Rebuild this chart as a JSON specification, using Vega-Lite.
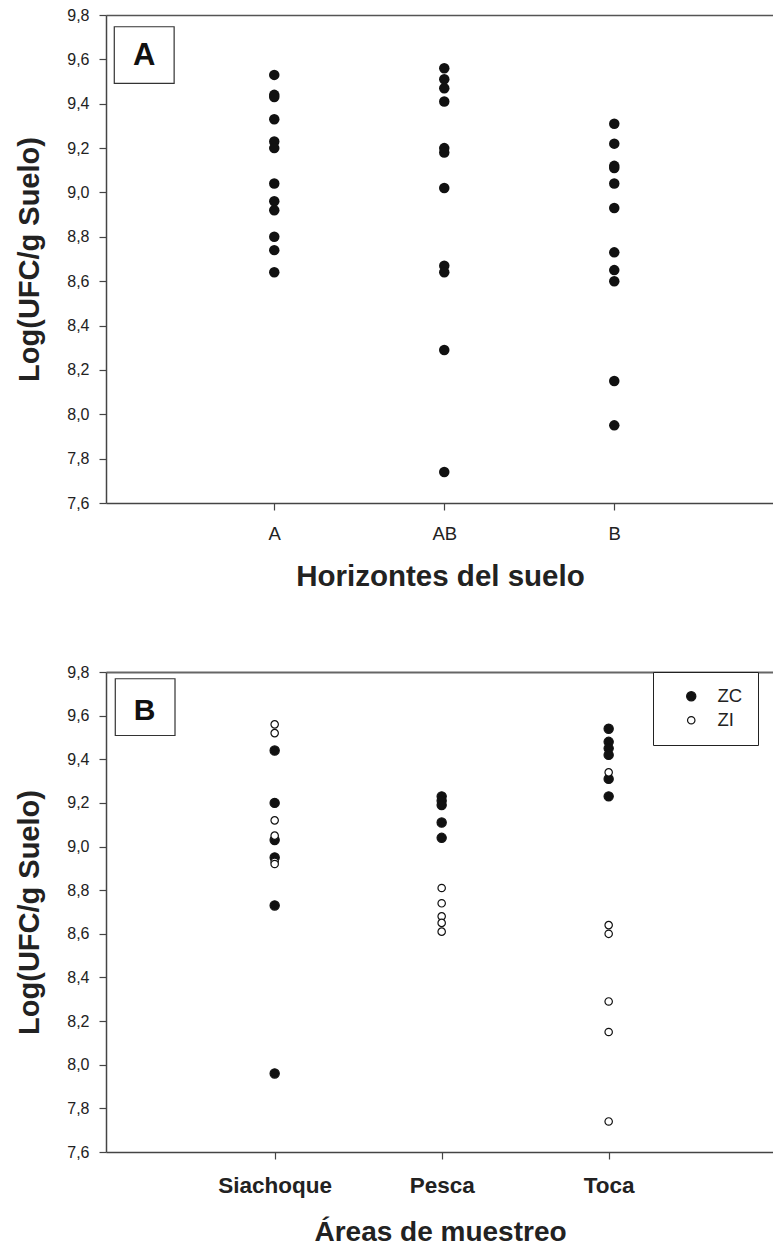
{
  "$schema": "https://vega.github.io/schema/vega-lite/v6.json",
  "padding": {"left": 15, "top": 7, "right": 0, "bottom": 0},
  "spacing": 72,
  "resolve": {"legend": {"fill": "independent", "size": "independent", "stroke": "independent"}},
  "config": {
    "view": {"stroke": null},
    "font": "Liberation Sans",
    "axis": {
      "domainColor": "#444444",
      "domainWidth": 1.5,
      "tickColor": "#444444",
      "tickWidth": 1.2,
      "tickSize": 7,
      "labelColor": "#222222",
      "titleColor": "#222222",
      "labelFont": "Liberation Sans",
      "titleFont": "Liberation Sans",
      "grid": false
    },
    "legend": {
      "title": null, "orient": "none", "legendX": 547, "legendY": 0, "padding": 15, "strokeColor": "#222222",
      "fillColor": "white", "labelFontSize": 18.5, "labelColor": "#222222", "labelOffset": 17, "symbolOffset": 14,
      "rowPadding": 5, "symbolStrokeColor": "#111111", "symbolStrokeWidth": 1.2, "symbolType": "circle"
    }
  },
  "datasets": {
    "horizontes": [
      {"horizonte": "A", "valor": 9.53}, {"horizonte": "A", "valor": 9.44}, {"horizonte": "A", "valor": 9.43},
      {"horizonte": "A", "valor": 9.33}, {"horizonte": "A", "valor": 9.23}, {"horizonte": "A", "valor": 9.20},
      {"horizonte": "A", "valor": 9.04}, {"horizonte": "A", "valor": 8.96}, {"horizonte": "A", "valor": 8.92},
      {"horizonte": "A", "valor": 8.80}, {"horizonte": "A", "valor": 8.74}, {"horizonte": "A", "valor": 8.64},
      {"horizonte": "AB", "valor": 9.56}, {"horizonte": "AB", "valor": 9.51}, {"horizonte": "AB", "valor": 9.47},
      {"horizonte": "AB", "valor": 9.41}, {"horizonte": "AB", "valor": 9.20}, {"horizonte": "AB", "valor": 9.18},
      {"horizonte": "AB", "valor": 9.02}, {"horizonte": "AB", "valor": 8.67}, {"horizonte": "AB", "valor": 8.64},
      {"horizonte": "AB", "valor": 8.29}, {"horizonte": "AB", "valor": 7.74},
      {"horizonte": "B", "valor": 9.31}, {"horizonte": "B", "valor": 9.22}, {"horizonte": "B", "valor": 9.12},
      {"horizonte": "B", "valor": 9.11}, {"horizonte": "B", "valor": 9.04}, {"horizonte": "B", "valor": 8.93},
      {"horizonte": "B", "valor": 8.73}, {"horizonte": "B", "valor": 8.65}, {"horizonte": "B", "valor": 8.60},
      {"horizonte": "B", "valor": 8.15}, {"horizonte": "B", "valor": 7.95}
    ],
    "areas": [
      {"area": "Siachoque", "zona": "ZC", "valor": 9.44}, {"area": "Siachoque", "zona": "ZC", "valor": 9.20},
      {"area": "Siachoque", "zona": "ZC", "valor": 9.03}, {"area": "Siachoque", "zona": "ZC", "valor": 8.95},
      {"area": "Siachoque", "zona": "ZC", "valor": 8.73}, {"area": "Siachoque", "zona": "ZC", "valor": 7.96},
      {"area": "Pesca", "zona": "ZC", "valor": 9.23}, {"area": "Pesca", "zona": "ZC", "valor": 9.21},
      {"area": "Pesca", "zona": "ZC", "valor": 9.19}, {"area": "Pesca", "zona": "ZC", "valor": 9.11},
      {"area": "Pesca", "zona": "ZC", "valor": 9.04},
      {"area": "Toca", "zona": "ZC", "valor": 9.54}, {"area": "Toca", "zona": "ZC", "valor": 9.48},
      {"area": "Toca", "zona": "ZC", "valor": 9.45}, {"area": "Toca", "zona": "ZC", "valor": 9.42},
      {"area": "Toca", "zona": "ZC", "valor": 9.31}, {"area": "Toca", "zona": "ZC", "valor": 9.23},
      {"area": "Siachoque", "zona": "ZI", "valor": 9.56}, {"area": "Siachoque", "zona": "ZI", "valor": 9.52},
      {"area": "Siachoque", "zona": "ZI", "valor": 9.12}, {"area": "Siachoque", "zona": "ZI", "valor": 9.05},
      {"area": "Siachoque", "zona": "ZI", "valor": 8.93}, {"area": "Siachoque", "zona": "ZI", "valor": 8.92},
      {"area": "Pesca", "zona": "ZI", "valor": 8.81}, {"area": "Pesca", "zona": "ZI", "valor": 8.74},
      {"area": "Pesca", "zona": "ZI", "valor": 8.68}, {"area": "Pesca", "zona": "ZI", "valor": 8.65},
      {"area": "Pesca", "zona": "ZI", "valor": 8.61},
      {"area": "Toca", "zona": "ZI", "valor": 9.34}, {"area": "Toca", "zona": "ZI", "valor": 8.64},
      {"area": "Toca", "zona": "ZI", "valor": 8.60}, {"area": "Toca", "zona": "ZI", "valor": 8.29},
      {"area": "Toca", "zona": "ZI", "valor": 8.15}, {"area": "Toca", "zona": "ZI", "valor": 7.74}
    ]
  },
  "vconcat": [
    {
      "width": 668,
      "height": 488,
      "layer": [
        {
          "data": {"name": "horizontes"},
          "mark": {"type": "circle", "size": 110, "color": "#111111", "opacity": 1},
          "encoding": {
            "x": {
              "field": "horizonte", "type": "nominal", "sort": ["A", "AB", "B"],
              "scale": {"type": "point", "padding": 0.9647, "align": 0.513},
              "axis": {"title": "Horizontes del suelo", "labelAngle": 0, "labelFontSize": 18.5, "labelPadding": 14.4,
                       "titleFontSize": 29.5, "titleFontWeight": "bold", "titlePadding": 20}
            },
            "y": {
              "field": "valor", "type": "quantitative",
              "scale": {"domain": [7.6, 9.8], "nice": false, "zero": false},
              "axis": {"title": "Log(UFC/g Suelo)", "values": [7.6, 7.8, 8.0, 8.2, 8.4, 8.6, 8.8, 9.0, 9.2, 9.4, 9.6, 9.8],
                       "labelExpr": "replace(format(datum.value, '.1f'), '.', ',')",
                       "labelFontSize": 16, "labelPadding": 10, "titleFontSize": 29, "titleFontWeight": "bold", "titlePadding": 22}
            }
          }
        },
        {
          "data": {"values": [{"etiqueta": "A"}]},
          "layer": [
            {
              "mark": {"type": "rect", "fill": "white", "stroke": "#333333", "strokeWidth": 1.2},
              "encoding": {
                "x": {"datum": 1.24, "type": "quantitative", "scale": {"domain": [0, 100]},
                      "axis": {"orient": "top", "labels": false, "ticks": false, "title": null, "domain": true, "domainColor": "#555555"}},
                "x2": {"datum": 10.2},
                "y": {"datum": 9.747, "type": "quantitative", "title": "Log(UFC/g Suelo)"},
                "y2": {"datum": 9.492}
              }
            },
            {
              "mark": {"type": "text", "fontSize": 31, "fontWeight": "bold", "baseline": "alphabetic", "align": "center", "color": "#111111"},
              "encoding": {
                "text": {"field": "etiqueta"},
                "x": {"datum": 5.72, "type": "quantitative"},
                "y": {"datum": 9.574, "type": "quantitative", "title": "Log(UFC/g Suelo)"}
              }
            }
          ]
        }
      ],
      "resolve": {"scale": {"x": "independent"}, "axis": {"x": "independent"}}
    },
    {
      "width": 668,
      "height": 480,
      "layer": [
        {
          "data": {"name": "areas"},
          "mark": {"type": "point", "filled": false, "opacity": 1, "strokeWidth": 1.2},
          "encoding": {
            "x": {
              "field": "area", "type": "nominal", "sort": ["Siachoque", "Pesca", "Toca"],
              "scale": {"type": "point", "padding": 1, "align": 0.505},
              "axis": {"title": "Áreas de muestreo", "labelAngle": 0, "labelFontSize": 22.5, "labelFontWeight": "bold", "labelPadding": 15.5,
                       "titleFontSize": 28, "titleFontWeight": "bold", "titlePadding": 21}
            },
            "y": {
              "field": "valor", "type": "quantitative",
              "scale": {"domain": [7.6, 9.8], "nice": false, "zero": false},
              "axis": {"title": "Log(UFC/g Suelo)", "values": [7.6, 7.8, 8.0, 8.2, 8.4, 8.6, 8.8, 9.0, 9.2, 9.4, 9.6, 9.8],
                       "labelExpr": "replace(format(datum.value, '.1f'), '.', ',')",
                       "labelFontSize": 16, "labelPadding": 10, "titleFontSize": 29, "titleFontWeight": "bold", "titlePadding": 22}
            },
            "stroke": {
              "field": "zona", "type": "nominal",
              "scale": {"domain": ["ZC", "ZI"], "range": ["#111111", "#111111"]}
            },
            "fill": {
              "field": "zona", "type": "nominal",
              "scale": {"domain": ["ZC", "ZI"], "range": ["#111111", "#ffffff"]}
            },
            "size": {
              "field": "zona", "type": "ordinal",
              "scale": {"domain": ["ZC", "ZI"], "range": [85, 55]}
            }
          }
        },
        {
          "data": {"values": [{"etiqueta": "B"}]},
          "layer": [
            {
              "mark": {"type": "rect", "fill": "white", "stroke": "#333333", "strokeWidth": 1.2},
              "encoding": {
                "x": {"datum": 1.39, "type": "quantitative", "scale": {"domain": [0, 100]},
                      "axis": {"orient": "top", "labels": false, "ticks": false, "title": null, "domain": true, "domainColor": "#666666", "domainWidth": 2}},
                "x2": {"datum": 10.33},
                "y": {"datum": 9.769, "type": "quantitative", "title": "Log(UFC/g Suelo)"},
                "y2": {"datum": 9.509}
              }
            },
            {
              "mark": {"type": "text", "fontSize": 30, "fontWeight": "bold", "baseline": "alphabetic", "align": "center", "color": "#111111"},
              "encoding": {
                "text": {"field": "etiqueta"},
                "x": {"datum": 5.76, "type": "quantitative"},
                "y": {"datum": 9.578, "type": "quantitative", "title": "Log(UFC/g Suelo)"}
              }
            }
          ]
        }
      ],
      "resolve": {"scale": {"x": "independent"}, "axis": {"x": "independent"}}
    }
  ]
}
